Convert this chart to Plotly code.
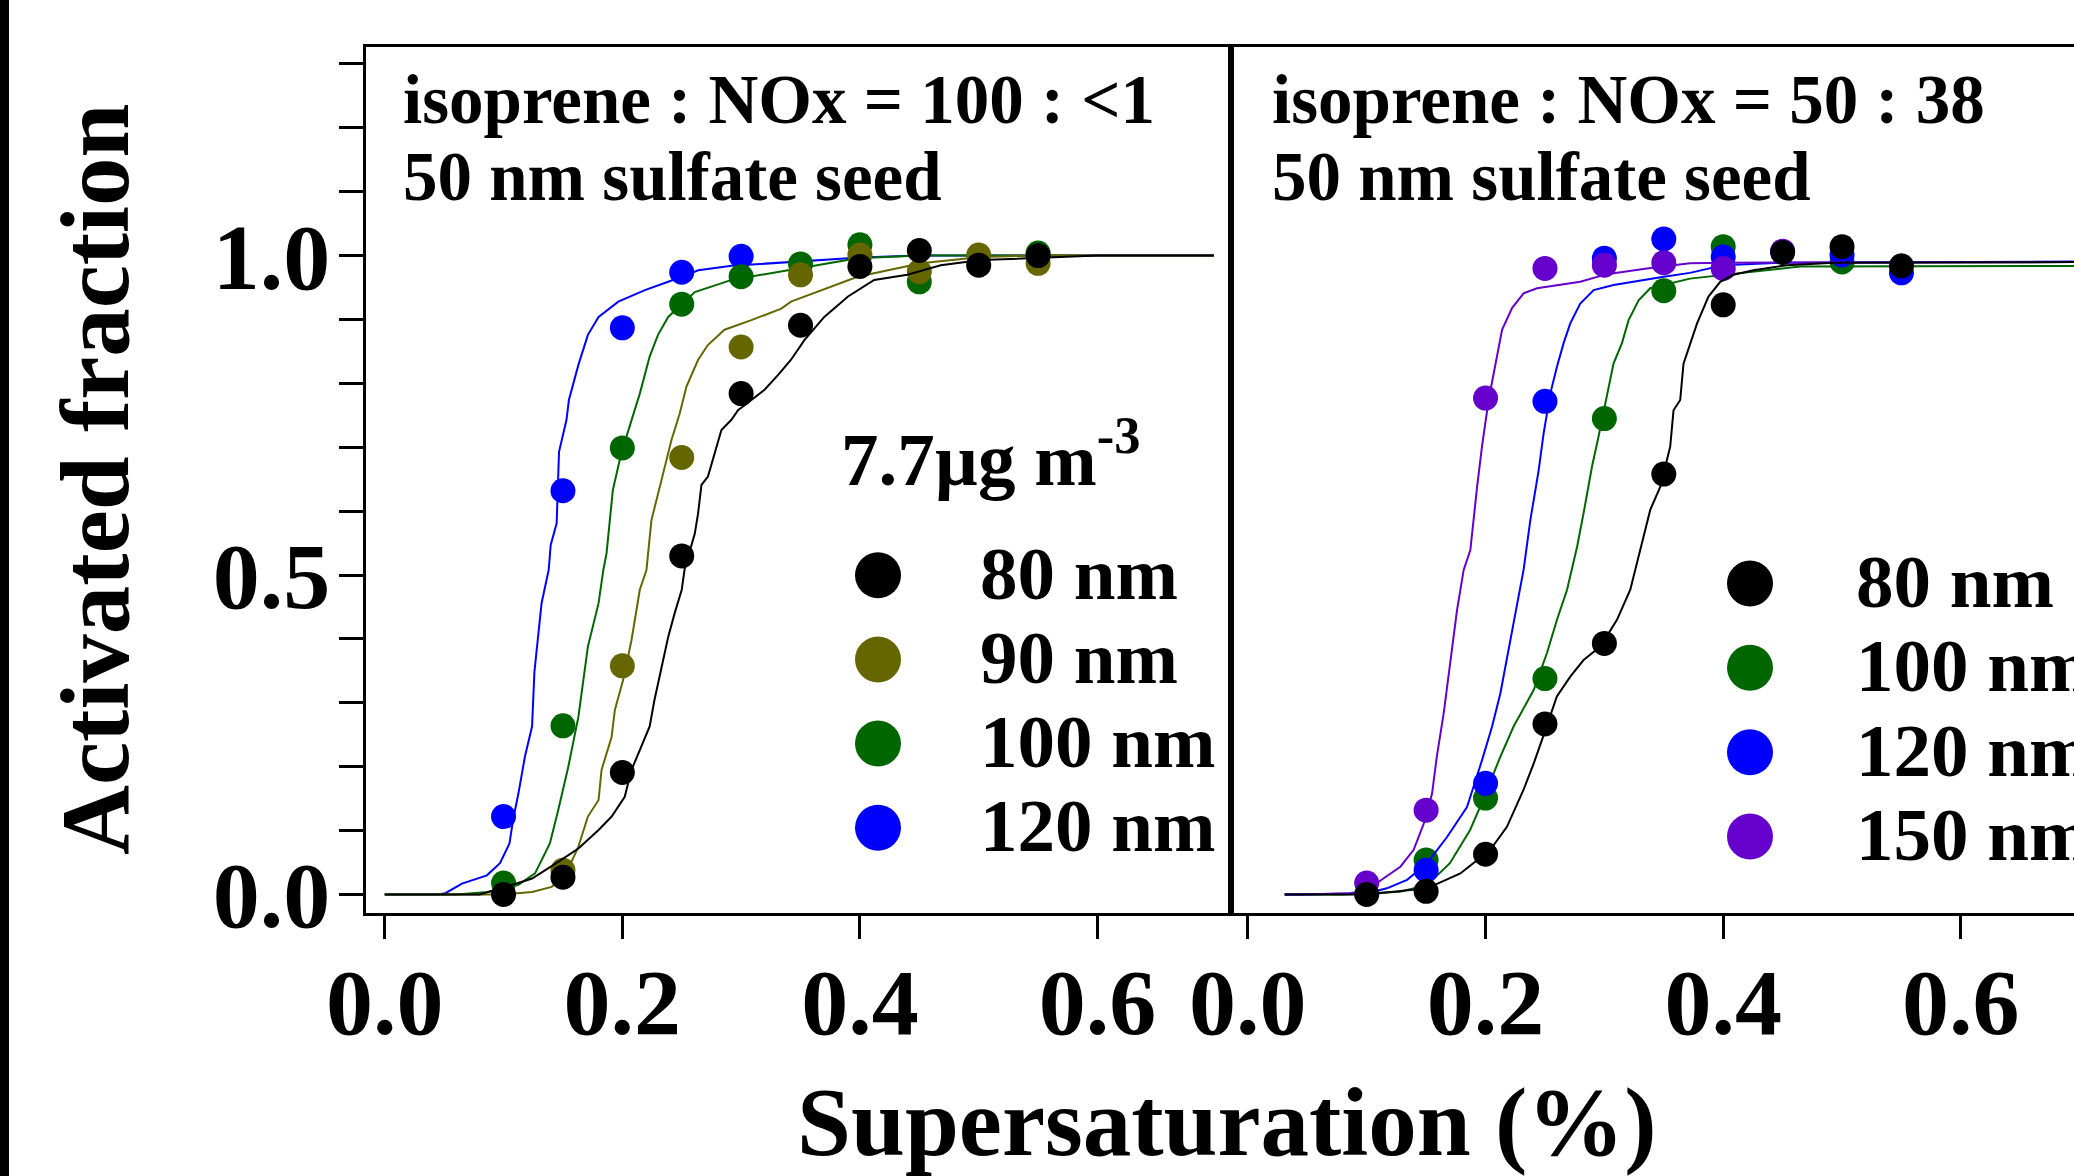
import plotly.graph_objects as go

W, H = 2074, 1176
FONT = "Liberation Serif"

# ---------------- data: left panel (isoprene : NOx = 100 : <1) ----------------
ss_L_black = [0.10, 0.15, 0.20, 0.25, 0.30, 0.35, 0.40, 0.45, 0.50, 0.55]
af_L_black = [0.000, 0.027, 0.191, 0.530, 0.784, 0.891, 0.983, 1.008, 0.985, 1.000]
ss_L_olive = [0.15, 0.20, 0.25, 0.30, 0.35, 0.40, 0.45, 0.50, 0.55]
af_L_olive = [0.038, 0.358, 0.684, 0.857, 0.970, 1.001, 0.975, 1.001, 0.988]
ss_L_green = [0.10, 0.15, 0.20, 0.25, 0.30, 0.35, 0.40, 0.45, 0.55]
af_L_green = [0.018, 0.264, 0.699, 0.924, 0.967, 0.987, 1.017, 0.959, 1.004]
ss_L_blue = [0.10, 0.15, 0.20, 0.25, 0.30]
af_L_blue = [0.122, 0.632, 0.887, 0.974, 0.999]

fit_L_blue_x = [0, 0.045, 0.051, 0.065, 0.086, 0.097, 0.105, 0.108, 0.1125, 0.118, 0.124, 0.126,
                0.132, 0.138, 0.1397, 0.1447, 0.1467, 0.153, 0.155, 0.163, 0.171, 0.18, 0.1966,
                0.219, 0.2386, 0.264, 0.292, 0.342, 0.40, 0.45, 0.698]
fit_L_blue_y = [0, 0.0, 0.002, 0.017, 0.03, 0.049, 0.08, 0.117, 0.158, 0.216, 0.263, 0.349,
                0.456, 0.508, 0.547, 0.581, 0.693, 0.743, 0.774, 0.829, 0.876, 0.904, 0.928,
                0.946, 0.959, 0.977, 0.984, 0.990, 0.997, 1.0, 1.0]
fit_L_green_x = [0, 0.06, 0.087, 0.1125, 0.1265, 0.132, 0.139, 0.146, 0.1545, 0.163, 0.171, 0.18,
                 0.184, 0.1867, 0.192, 0.199, 0.2077, 0.2147, 0.223, 0.23, 0.2386, 0.261, 0.292,
                 0.334, 0.398, 0.45, 0.698]
fit_L_green_y = [0, 0.0, 0.004, 0.015, 0.033, 0.054, 0.08, 0.132, 0.2, 0.278, 0.388, 0.456,
                 0.508, 0.534, 0.633, 0.69, 0.743, 0.784, 0.842, 0.876, 0.904, 0.943, 0.962,
                 0.975, 0.996, 1.0, 1.0]
fit_L_olive_x = [0, 0.10, 0.124, 0.1405, 0.152, 0.163, 0.171, 0.18, 0.1825, 0.191, 0.1937, 0.2007,
                 0.2077, 0.2147, 0.2203, 0.2245, 0.233, 0.2413, 0.2483, 0.254, 0.2638, 0.272, 0.286,
                 0.3086, 0.3338, 0.342, 0.398, 0.4514, 0.502, 0.55, 0.698]
fit_L_olive_y = [0, 0.0, 0.004, 0.012, 0.03, 0.075, 0.122, 0.148, 0.195, 0.247, 0.289, 0.336,
                 0.398, 0.477, 0.508, 0.586, 0.649, 0.711, 0.753, 0.795, 0.837, 0.86, 0.884,
                 0.899, 0.917, 0.928, 0.967, 0.988, 0.998, 1.0, 1.0]
fit_L_black_x = [0, 0.08, 0.107, 0.124, 0.146, 0.163, 0.18, 0.191, 0.202, 0.2077, 0.2147, 0.223,
                 0.227, 0.233, 0.2386, 0.244, 0.25, 0.2525, 0.261, 0.2638, 0.2666, 0.272, 0.2777,
                 0.2834, 0.2918, 0.2974, 0.3086, 0.3197, 0.331, 0.342, 0.3534, 0.37, 0.39, 0.412,
                 0.44, 0.468, 0.502, 0.566, 0.60, 0.698]
fit_L_black_y = [0, 0.0, 0.015, 0.025, 0.051, 0.072, 0.101, 0.122, 0.153, 0.195, 0.226, 0.263,
                 0.304, 0.357, 0.403, 0.44, 0.477, 0.51, 0.565, 0.597, 0.641, 0.654, 0.69,
                 0.727, 0.743, 0.758, 0.774, 0.79, 0.813, 0.837, 0.868, 0.904, 0.936, 0.962,
                 0.97, 0.985, 0.993, 0.998, 1.0, 1.0]

# ---------------- data: right panel (isoprene : NOx = 50 : 38) ----------------
ss_R_black = [0.10, 0.15, 0.20, 0.25, 0.30, 0.35, 0.40, 0.45, 0.50, 0.55]
af_R_black = [0.000, 0.005, 0.063, 0.267, 0.393, 0.658, 0.923, 1.005, 1.014, 0.984]
ss_R_green = [0.15, 0.20, 0.25, 0.30, 0.35, 0.40, 0.50]
af_R_green = [0.054, 0.151, 0.338, 0.745, 0.945, 1.014, 0.990]
ss_R_blue = [0.15, 0.20, 0.25, 0.30, 0.35, 0.40, 0.50, 0.55]
af_R_blue = [0.038, 0.174, 0.772, 0.996, 1.026, 0.998, 1.001, 0.973]
ss_R_purple = [0.10, 0.15, 0.20, 0.25, 0.30, 0.35, 0.40, 0.45]
af_R_purple = [0.018, 0.132, 0.777, 0.980, 0.985, 0.989, 0.980, 1.007]

fit_R_purple_x = [0.031, 0.044, 0.0863, 0.1003, 0.114, 0.1283, 0.1395, 0.148, 0.155, 0.159, 0.1648,
                  0.1704, 0.176, 0.1816, 0.1872, 0.1929, 0.197, 0.2026, 0.2082, 0.2139, 0.2223,
                  0.232, 0.2433, 0.2797, 0.302, 0.3358, 0.372, 0.40, 0.72]
fit_R_purple_y = [0, 0.0, 0.002, 0.007, 0.025, 0.0435, 0.07, 0.111, 0.158, 0.216, 0.284,
                  0.367, 0.445, 0.508, 0.539, 0.638, 0.701, 0.774, 0.831, 0.884, 0.918,
                  0.941, 0.949, 0.959, 0.971, 0.980, 0.988, 0.989, 0.990]
fit_R_blue_x = [0.031, 0.044, 0.1003, 0.117, 0.134, 0.1508, 0.1676, 0.1844, 0.197, 0.2055, 0.2125,
                0.2194, 0.2265, 0.232, 0.2377, 0.2447, 0.2489, 0.2545, 0.2601, 0.2657, 0.2713,
                0.2797, 0.291, 0.3077, 0.35, 0.372, 0.40, 0.45, 0.72]
fit_R_blue_y = [0, 0.0, 0.002, 0.0097, 0.023, 0.049, 0.09, 0.137, 0.21, 0.263, 0.315,
                0.383, 0.456, 0.508, 0.586, 0.664, 0.722, 0.784, 0.826, 0.863, 0.894,
                0.925, 0.946, 0.954, 0.967, 0.973, 0.985, 0.989, 0.991]
fit_R_green_x = [0.031, 0.08, 0.128, 0.151, 0.17, 0.187, 0.198, 0.2125, 0.2236, 0.2405, 0.2517,
                 0.2601, 0.2686, 0.2727, 0.277, 0.2825, 0.2896, 0.2951, 0.3022, 0.3077, 0.3148,
                 0.3204, 0.3288, 0.3386, 0.372, 0.40, 0.4648, 0.72]
fit_R_green_y = [0, 0.0, 0.0045, 0.015, 0.049, 0.101, 0.148, 0.216, 0.263, 0.32, 0.378,
                 0.43, 0.477, 0.508, 0.544, 0.597, 0.67, 0.717, 0.779, 0.831, 0.863,
                 0.899, 0.93, 0.949, 0.964, 0.970, 0.983, 0.984]
fit_R_black_x = [0.031, 0.10, 0.1508, 0.1788, 0.204, 0.218, 0.232, 0.2405, 0.2503, 0.26, 0.2713,
                 0.2825, 0.2966, 0.3106, 0.3218, 0.330, 0.3386, 0.347, 0.3554, 0.3582, 0.3638,
                 0.3666, 0.378, 0.3876, 0.3975, 0.4087, 0.4255, 0.4536, 0.4928, 0.72]
fit_R_black_y = [0, 0.0, 0.0097, 0.033, 0.07, 0.106, 0.164, 0.205, 0.257, 0.31, 0.341,
                 0.367, 0.388, 0.43, 0.477, 0.539, 0.602, 0.638, 0.701, 0.758, 0.774,
                 0.831, 0.894, 0.936, 0.959, 0.970, 0.977, 0.985, 0.989, 0.990]

# ---------------- labels ----------------
x_tickvals = [0.0, 0.2, 0.4, 0.6]
x_ticktext = ["0.0", "0.2", "0.4", "0.6"]
y_tickvals = [0.0, 0.1, 0.2, 0.3, 0.4, 0.5, 0.6, 0.7, 0.8, 0.9, 1.0, 1.1, 1.2, 1.3]
y_ticktext = ["0.0", " ", " ", " ", " ", "0.5", " ", " ", " ", " ", "1.0", " ", " ", " "]
legend_L_labels = ["80 nm", "90 nm", "100 nm", "120 nm"]
legend_R_labels = ["80 nm", "100 nm", "120 nm", "150 nm"]
panel_L_text = ["isoprene : NOx = 100 : <1", "50 nm sulfate seed"]
panel_R_text = ["isoprene : NOx = 50 : 38", "50 nm sulfate seed"]
mass_label = "7.7µg m<sup>-3</sup>"
x_title = "Supersaturation (%)"
y_title = "Activated fraction"

C_BLACK = "#000000"
C_OLIVE = "#666600"
C_GREEN = "#006600"
C_BLUE = "#0000FF"
C_PURPLE = "#6600CC"

fig = go.Figure()


def add_series(xf, yf, xm, ym, color, xa, ya):
    fig.add_trace(go.Scatter(x=xf, y=yf, mode="lines", line=dict(color=color, width=2),
                             xaxis=xa, yaxis=ya, showlegend=False, hoverinfo="skip"))
    fig.add_trace(go.Scatter(x=xm, y=ym, mode="markers",
                             marker=dict(color=color, size=25, line=dict(width=0)),
                             xaxis=xa, yaxis=ya, showlegend=False))


add_series(fit_L_blue_x, fit_L_blue_y, ss_L_blue, af_L_blue, C_BLUE, "x", "y")
add_series(fit_L_green_x, fit_L_green_y, ss_L_green, af_L_green, C_GREEN, "x", "y")
add_series(fit_L_olive_x, fit_L_olive_y, ss_L_olive, af_L_olive, C_OLIVE, "x", "y")
add_series(fit_L_black_x, fit_L_black_y, ss_L_black, af_L_black, C_BLACK, "x", "y")

add_series(fit_R_green_x, fit_R_green_y, ss_R_green, af_R_green, C_GREEN, "x2", "y2")
add_series(fit_R_blue_x, fit_R_blue_y, ss_R_blue, af_R_blue, C_BLUE, "x2", "y2")
add_series(fit_R_purple_x, fit_R_purple_y, ss_R_purple, af_R_purple, C_PURPLE, "x2", "y2")
add_series(fit_R_black_x, fit_R_black_y, ss_R_black, af_R_black, C_BLACK, "x2", "y2")


def px_x(v):
    return v / W


def px_y(v):
    return 1 - v / H


tickfont = dict(family=FONT, size=94, color="black", weight="bold")
y_dom = [px_y(912.6), px_y(46.7)]
XL0, XDIV = 366.0, 1231.0

common_x = dict(showline=True, linecolor="black", linewidth=3, mirror=True, ticks="outside",
                ticklen=23, tickwidth=2.5, tickcolor="black", tickmode="array",
                tickvals=x_tickvals, ticktext=x_ticktext, tickfont=tickfont,
                showgrid=False, zeroline=False, ticklabelstandoff=-17)

fig.update_layout(
    width=W, height=H, margin=dict(l=0, r=0, t=0, b=0),
    paper_bgcolor="white", plot_bgcolor="white", template="none", showlegend=False,
    xaxis=dict(domain=[px_x(XL0), px_x(XDIV)], range=[-0.0158, 0.7124], anchor="y", **common_x),
    yaxis=dict(domain=y_dom, range=[-0.0283, 1.327], anchor="x", showline=True,
               linecolor="black", linewidth=3, mirror=True, ticks="outside", ticklen=24,
               tickwidth=2.5, tickcolor="black", tickmode="array", tickvals=y_tickvals,
               ticktext=y_ticktext, tickfont=tickfont, showgrid=False, zeroline=False,
               ticklabelstandoff=-10),
    xaxis2=dict(domain=[px_x(XDIV), 1.0], range=[-0.0142, 0.6952], anchor="y2", **common_x),
    yaxis2=dict(domain=y_dom, range=[-0.0283, 1.327], anchor="x2", showline=True,
                linecolor="black", linewidth=3, mirror=False, ticks="", showticklabels=False,
                showgrid=False, zeroline=False),
)

shapes = [dict(type="rect", xref="paper", yref="paper", x0=0, x1=px_x(9), y0=0, y1=1,
               fillcolor="black", line=dict(width=0), layer="above")]
annotations = []


def txt(x, y, s, size, xanchor="left", angle=0):
    annotations.append(dict(x=px_x(x), y=px_y(y), xref="paper", yref="paper", text=s,
                            showarrow=False, xanchor=xanchor, yanchor="middle",
                            textangle=angle,
                            font=dict(family=FONT, size=size, color="black", weight="bold")))


# panel texts
txt(401, 100, panel_L_text[0], 69)
txt(401, 177, panel_L_text[1], 69)
txt(1270, 100, panel_R_text[0], 69)
txt(1270, 177, panel_R_text[1], 69)

# legends
txt(839, 454, mass_label, 75)
leg_L_colors = [C_BLACK, C_OLIVE, C_GREEN, C_BLUE]
leg_R_colors = [C_BLACK, C_GREEN, C_BLUE, C_PURPLE]
for i, (lab, col) in enumerate(zip(legend_L_labels, leg_L_colors)):
    cy = 575.2 + 84.2 * i
    cx = 878
    shapes.append(dict(type="circle", xref="paper", yref="paper",
                       x0=px_x(cx - 23), x1=px_x(cx + 23), y0=px_y(cy + 23), y1=px_y(cy - 23),
                       fillcolor=col, line=dict(width=0)))
    txt(978, cy - 2, lab, 75)
for i, (lab, col) in enumerate(zip(legend_R_labels, leg_R_colors)):
    cy = 583.4 + 84.4 * i
    cx = 1750
    shapes.append(dict(type="circle", xref="paper", yref="paper",
                       x0=px_x(cx - 23), x1=px_x(cx + 23), y0=px_y(cy + 23), y1=px_y(cy - 23),
                       fillcolor=col, line=dict(width=0)))
    txt(1854, cy - 2, lab, 75)

# axis titles
txt(1227, 1122, x_title, 97, xanchor="center")
txt(95, 479, y_title, 97, xanchor="center", angle=-90)

fig.update_layout(shapes=shapes, annotations=annotations)
fig.write_html("out.html", config={"displayModeBar": False},
               post_script="document.body.style.margin='0px';")
